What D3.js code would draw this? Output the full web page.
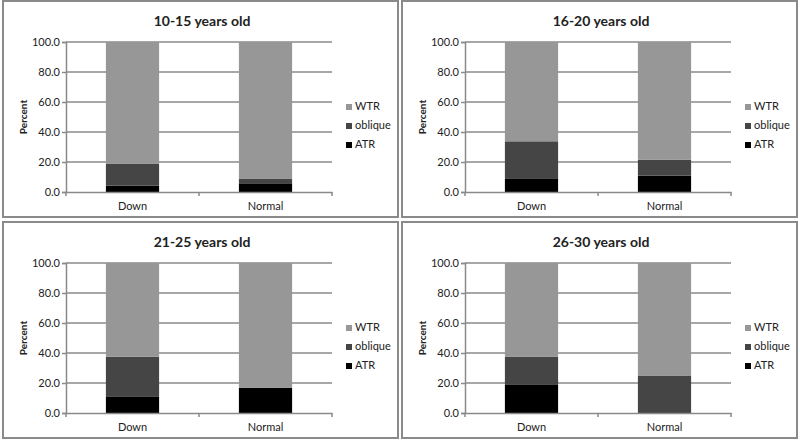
<!DOCTYPE html>
<html lang="en">
<head>
<meta charset="UTF-8">
<title>Astigmatism by age group</title>
<script src="https://d3js.org/d3.v7.min.js"></script>
<style>
    body { margin: 0; background: #fff; }
    svg text { font-family: Lato, "Open Sans", sans-serif; fill: #222; }
    .title { font-size: 14px; font-weight: bold; }
    .tick text { font-size: 11px; }
    .ylabel { font-size: 10px; font-weight: bold; }
    .legend text { font-size: 11px; }
</style>
</head>
<body>
<svg id="chart" width="800" height="441"></svg>
<script>
// data
var titles = ["10-15 years old", "16-20 years old", "21-25 years old", "26-30 years old"]
var categories = ["Down", "Normal"]
var seriesNames = ["WTR", "oblique", "ATR"]
var atr     = [[4.2, 5.8], [8.7, 10.9], [11.1, 16.9], [18.7, 0]]
var oblique = [[14.5, 2.9], [25.1, 10.7], [26.5, 0], [18.7, 24.7]]
var wtr     = [[81.3, 91.3], [66.2, 78.4], [62.4, 83.1], [62.6, 75.3]]
var yTicks = [0, 20, 40, 60, 80, 100]

var colors = { WTR: "#979797", oblique: "#454545", ATR: "#000000" }

// panel boxes
var panels = [
    { x: 3, y: 1 }, { x: 402, y: 1 },
    { x: 3, y: 222 }, { x: 402, y: 222 }
]
var pw = 395, ph = 216

const svg = d3.select("#chart")

function drawPanel(i) {
    var p = panels[i]
    var g = svg.append("g").attr("transform", `translate(${p.x},${p.y})`)

    g.append("rect")
        .attr("x", 0).attr("y", 0)
        .attr("width", pw).attr("height", ph)
        .attr("fill", "none")
        .attr("stroke", "#8a8a8a")
        .attr("stroke-width", 2)

    var left = 63, right = 329, top = 41, bottom = 191

    var x = d3.scaleBand().domain(categories).range([left, right])
    var y = d3.scaleLinear().domain([0, 100]).range([bottom, top])

    // gridlines
    g.selectAll(".grid")
        .data(yTicks.filter(d => d > 0))
        .enter().append("line")
        .attr("x1", left).attr("x2", right)
        .attr("y1", d => y(d)).attr("y2", d => y(d))
        .attr("stroke", "#8a8a8a")
        .attr("stroke-width", 1.5)

    // stacked bars
    var rows = categories.map((c, j) => ({
        cat: c, ATR: atr[i][j], oblique: oblique[i][j], WTR: wtr[i][j]
    }))
    var stack = d3.stack().keys(["ATR", "oblique", "WTR"])(rows)
    var bw = x.bandwidth() * 0.4

    stack.forEach(function(layer) {
        g.selectAll(".bar-" + layer.key)
            .data(layer)
            .enter().append("rect")
            .attr("x", d => x(d.data.cat) + (x.bandwidth() - bw) / 2)
            .attr("y", d => y(d[1]))
            .attr("width", bw)
            .attr("height", d => y(d[0]) - y(d[1]))
            .attr("fill", colors[layer.key])
    })

    // axes
    var yAxis = g.append("g")
        .attr("transform", `translate(${left},0)`)
        .call(d3.axisLeft(y).tickValues(yTicks).tickFormat(d3.format(".1f")).tickSize(4).tickPadding(2))
    yAxis.select(".domain").attr("stroke", "#8a8a8a").attr("stroke-width", 1.5)
    yAxis.selectAll(".tick line").attr("stroke", "#8a8a8a").attr("stroke-width", 1.5)

    var xAxis = g.append("g")
        .attr("transform", `translate(0,${bottom})`)
        .call(d3.axisBottom(x).tickSize(0).tickPadding(10))
    xAxis.select(".domain").attr("stroke", "#8a8a8a").attr("stroke-width", 1.5)
    // tick marks on band edges
    g.selectAll(".xtick")
        .data([left, left + x.step(), right])
        .enter().append("line")
        .attr("x1", d => d).attr("x2", d => d)
        .attr("y1", bottom).attr("y2", bottom + 4)
        .attr("stroke", "#8a8a8a").attr("stroke-width", 1.5)

    g.selectAll(".tick text").attr("fill", "#222").attr("font-family", "Lato, sans-serif")

    // title
    g.append("text")
        .attr("class", "title")
        .attr("x", 199).attr("y", 25)
        .attr("text-anchor", "middle")
        .text(titles[i])

    // y label
    g.append("text")
        .attr("class", "ylabel")
        .attr("transform", `translate(24,${(top + bottom) / 2}) rotate(-90)`)
        .attr("text-anchor", "middle")
        .text("Percent")

    // legend
    var lg = g.append("g").attr("class", "legend")
    seriesNames.forEach(function(s, k) {
        var ly = 106 + k * 19
        lg.append("rect")
            .attr("x", 343).attr("y", ly - 3)
            .attr("width", 6).attr("height", 6)
            .attr("fill", colors[s])
        lg.append("text")
            .attr("x", 352).attr("y", ly)
            .attr("dominant-baseline", "middle")
            .text(s)
    })
}

for (var i = 0; i < panels.length; i++) drawPanel(i)
</script>
</body>
</html>
